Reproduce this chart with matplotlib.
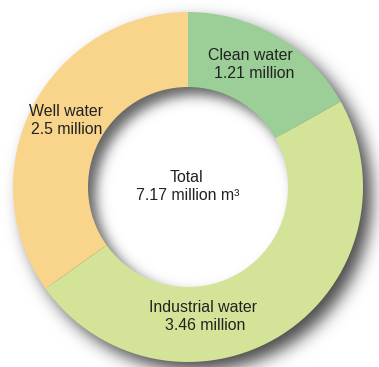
import numpy as np
import matplotlib.pyplot as plt
from matplotlib.patches import Wedge, Circle
from math import erf, sqrt

# water use, million m3 (clockwise from 12 o'clock)
categories = ['Clean water', 'Industrial water', 'Well water']
values = [1.21, 3.46, 2.5]
value_labels = ['1.21 million', '3.46 million', '2.5 million']
colors = ['#9ccf98', '#d3e499', '#f9d48b']
total_label = ['Total', '7.17 million m\u00b3']

W, H = 379, 367
CX, CY = 188, 187      # pixel centre of the ring
R_OUT, R_IN = 175, 100

plt.rcParams['font.family'] = ['Liberation Sans', 'DejaVu Sans']

fig = plt.figure(figsize=(W / 100, H / 100), dpi=100)
ax = fig.add_axes([0, 0, 1, 1])


def phi(z):
    return 0.5 * (1 + erf(z / sqrt(2)))


def grey(a):
    g = 1 - a
    return (g, g, g)


# drop shadow: stacked opaque grey discs (white background), offset down-right
ox, oy = CX + 9, H - (CY + 9)
s_out, op_out = 8, 0.7
for d in np.arange(R_OUT + 3 * s_out, R_OUT - 3 * s_out, -0.5):
    ax.add_patch(Circle((ox, oy), d, facecolor=grey(op_out * phi((R_OUT - d) / s_out)),
                        linewidth=0, zorder=1))

ix, iy = CX + 8, H - (CY + 8)
s_in, op_in = 6, 0.6
for d in np.arange(R_IN + 3 * s_in, R_IN - 3 * s_in, -0.5):
    ax.add_patch(Circle((ix, iy), d, facecolor=grey(op_in * phi((d - R_IN) / s_in)),
                        linewidth=0, zorder=1))
ax.add_patch(Circle((ix, iy), R_IN - 3 * s_in, facecolor='white', linewidth=0, zorder=1))

# donut wedges, clockwise from the top
frac = np.cumsum([0] + values) / sum(values)
for i, c in enumerate(colors):
    ax.add_patch(Wedge((CX, H - CY), R_OUT, 90 - 360 * frac[i + 1], 90 - 360 * frac[i],
                       width=R_OUT - R_IN, facecolor=c, linewidth=0, zorder=2))


def label(x, y, lines):
    for i, s in enumerate(lines):
        ax.text(x[i], H - y[i], s, ha='center', va='center',
                fontsize=11.4, color='#222222', zorder=5)


label([250, 254], [55, 74], [categories[0], value_labels[0]])
label([203, 205], [307, 325], [categories[1], value_labels[1]])
label([66, 67], [112, 130], [categories[2], value_labels[2]])
label([186, 188], [178, 196], total_label)

ax.set_xlim(0, W)
ax.set_ylim(0, H)
ax.axis('off')

fig.savefig('out.png', dpi=100)
